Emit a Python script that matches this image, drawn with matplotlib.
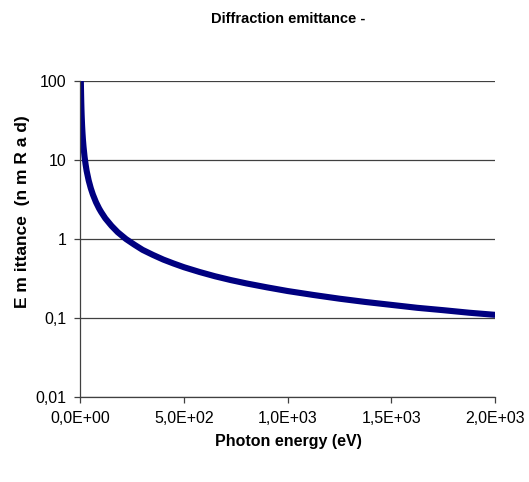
import matplotlib
matplotlib.use("Agg")
import matplotlib.pyplot as plt
from matplotlib.ticker import FixedLocator, FixedFormatter, NullLocator

# Values
energy_ev = [2, 3, 4, 5, 6, 8, 10, 12, 15, 20, 25, 30, 40, 50, 60, 75, 90,
             100, 120, 150, 180, 220, 260, 300, 350, 400, 450, 500, 575,
             650, 725, 800, 900, 1000, 1125, 1250, 1375, 1500, 1625, 1750,
             1875, 2000]
emittance = [100, 73, 55, 44, 36.7, 27.5, 22, 18.3, 14.7, 11, 8.8, 7.3,
             5.5, 4.4, 3.67, 2.93, 2.44, 2.2, 1.83, 1.47, 1.22, 1.0, 0.85,
             0.73, 0.63, 0.55, 0.49, 0.44, 0.383, 0.338, 0.303, 0.275, 0.245,
             0.22, 0.196, 0.176, 0.16, 0.147, 0.135, 0.126, 0.117, 0.11]

x_ticks = [0, 500, 1000, 1500, 2000]
x_labels = ["0,0E+00", "5,0E+02", "1,0E+03", "1,5E+03", "2,0E+03"]
y_ticks = [0.01, 0.1, 1, 10, 100]
y_labels = ["0,01", "0,1", "1", "10", "100"]

plt.rcParams["font.family"] = ["Liberation Sans", "DejaVu Sans"]

fig = plt.figure(figsize=(5.29, 4.82), dpi=100)
ax = fig.add_axes([0.152, 0.176, 0.784, 0.656])

ax.plot(energy_ev, emittance, color="#000080", linewidth=4.4,
        solid_capstyle="butt", solid_joinstyle="round")

ax.set_yscale("log")
ax.set_xlim(0, 2000)
ax.set_ylim(0.01, 100)

ax.xaxis.set_major_locator(FixedLocator(x_ticks))
ax.xaxis.set_major_formatter(FixedFormatter(x_labels))
ax.yaxis.set_major_locator(FixedLocator(y_ticks))
ax.yaxis.set_major_formatter(FixedFormatter(y_labels))
ax.yaxis.set_minor_locator(NullLocator())

ax.grid(axis="y", color="#404040", linewidth=0.9)
ax.set_axisbelow(True)
for side in ["top", "right"]:
    ax.spines[side].set_visible(False)
for side in ["left", "bottom"]:
    ax.spines[side].set_color("#404040")
    ax.spines[side].set_linewidth(0.9)
ax.tick_params(axis="both", direction="out", length=4, width=0.9,
               color="#404040", labelsize=11.5, pad=6)

fig.text(0.545, 0.96, "Diffraction emittance -", ha="center", va="center",
         fontsize=10.5, fontweight="bold")
fig.text(0.545, 0.085, "Photon energy (eV)", ha="center", va="center",
         fontsize=11.5, fontweight="bold")
fig.text(0.042, 0.56, "E m ittance  (n m R a d)", ha="center", va="center",
         rotation=90, fontsize=12.5, fontweight="bold")

fig.savefig("out.png", dpi=100)
